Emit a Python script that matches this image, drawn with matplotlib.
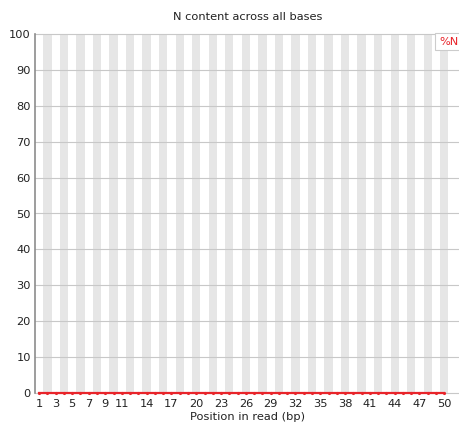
import matplotlib
matplotlib.use('Agg')
import matplotlib.pyplot as plt

# posicoes da leitura e porcentagem de N em cada uma
posicoes = list(range(1, 51))
pct_n = [0.0] * 50
rotulos_x = [1, 3, 5, 7, 9, 11, 14, 17, 20, 23, 26, 29, 32, 35, 38, 41, 44, 47, 50]
rotulos_y = list(range(0, 101, 10))

plt.rcParams['font.family'] = 'DejaVu Sans'
fig = plt.figure(figsize=(4.6, 4.23), dpi=100)
ax = fig.add_axes([35 / 460, 30 / 423, 425 / 460, 359 / 423])

# faixas cinzas alternadas nas colunas
for p in posicoes:
    if p % 2 == 0:
        ax.axvspan(p - 0.5, p + 0.5, color='#e6e6e6', lw=0, zorder=0)

# linhas de grade horizontais
for v in rotulos_y:
    ax.axhline(v, color='#c8c8c8', lw=0.8, zorder=1, clip_on=False)

ax.plot(posicoes, pct_n, color='#e8242a', lw=1.6, marker='.', ms=2.5,
        zorder=3, clip_on=False)

ax.set_xlim(0.5, 51.9)
ax.set_ylim(0, 100)
ax.set_xticks(rotulos_x)
ax.set_xticklabels([str(r) for r in rotulos_x])
ax.set_yticks(rotulos_y)
ax.tick_params(length=0, labelsize=8.2, colors='#222222', pad=4)
ax.tick_params(axis='y', pad=3)

for lado in ['top', 'right', 'bottom']:
    ax.spines[lado].set_visible(False)
ax.spines['left'].set_color('#8c8c8c')
ax.spines['left'].set_linewidth(1.2)

ax.set_title('N content across all bases', fontsize=8.2, color='#222222', pad=10)
ax.set_xlabel('Position in read (bp)', fontsize=8.2, color='#222222', labelpad=2.5)

# caixa da legenda
ax.text(0.996, 0.993, '%N', transform=ax.transAxes, ha='right', va='top',
        fontsize=8.2, color='#e8242a', zorder=5,
        bbox=dict(boxstyle='square,pad=0.35', fc='white', ec='#cccccc', lw=0.8))

fig.savefig('out.png', dpi=100)
